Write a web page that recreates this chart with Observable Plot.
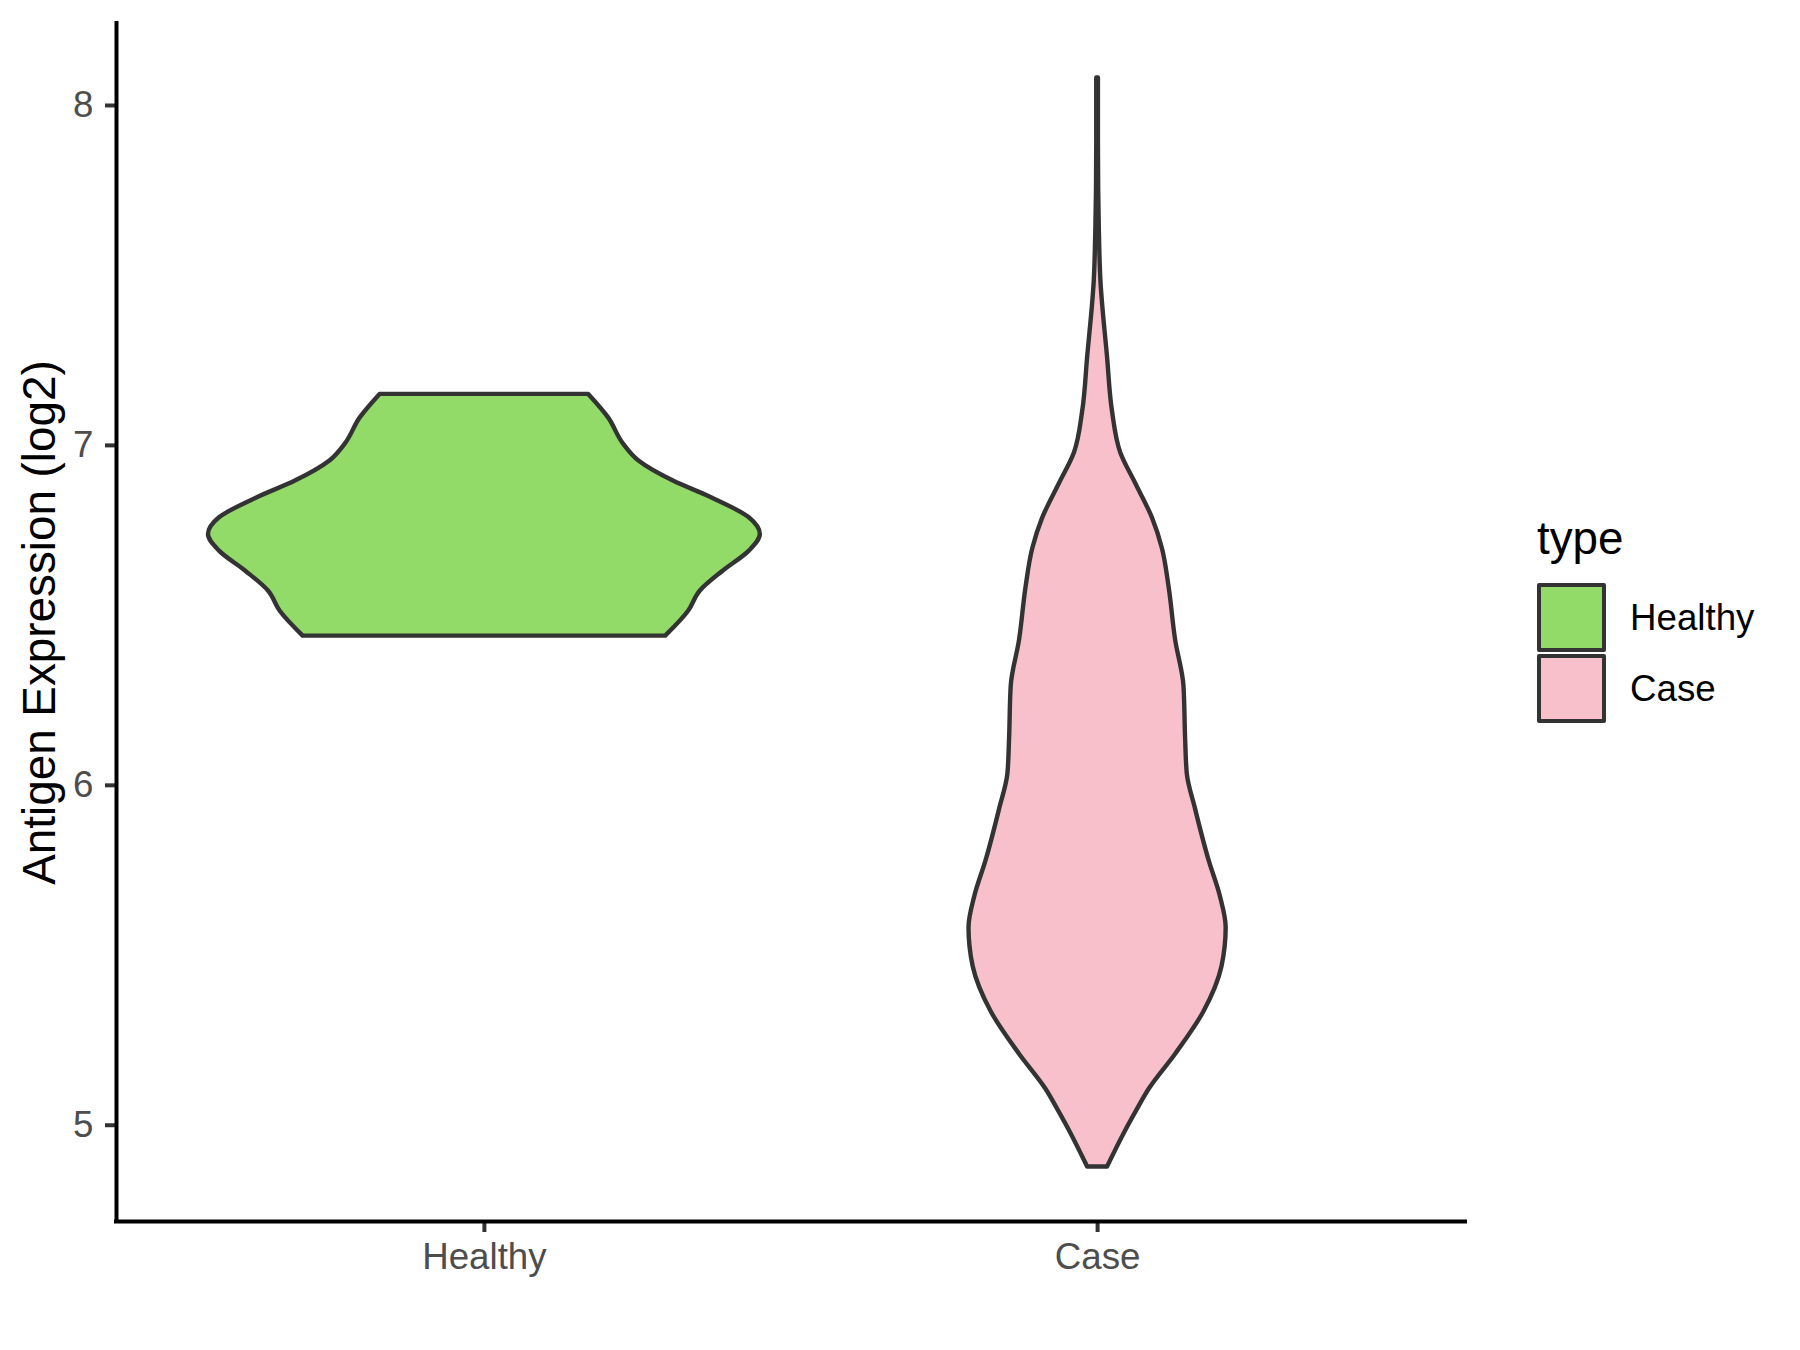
<!DOCTYPE html>
<html>
<head>
<meta charset="utf-8">
<script src="https://cdn.jsdelivr.net/npm/d3@7"></script>
<script src="https://cdn.jsdelivr.net/npm/@observablehq/plot@0.6"></script>
<style>
  html, body { margin: 0; padding: 0; background: #ffffff; }
  #wrap { position: relative; width: 1800px; height: 1350px; font-family: "Liberation Sans", Arial, sans-serif; }
  #wrap svg { position: absolute; left: 0; top: 0; }
  #legend { position: absolute; left: 1537px; top: 516px; }
  #legend .title { font-size: 45.8px; line-height: 46px; color: #000; height: 66px; }
  #legend .row { display: flex; align-items: center; height: 71px; }
  #legend .key { width: 69px; height: 69px; box-sizing: border-box; border: 4px solid #333333; border-radius: 2px; }
  #legend .lab { font-size: 36.7px; margin-left: 24px; color: #000; }
</style>
</head>
<body>
<div id="wrap"></div>
<script>
// ---- data ----
const categories = ["Healthy", "Case"];
const fillColors = ["#93DB69", "#F7C0CB"];
const yTicks = [5, 6, 7, 8];
const yLabel = "Antigen Expression (log2)";
const legendTitle = "type";

// violin profiles: y value and relative half-width (1 = widest violin)
const healthyY = [7.150, 7.081, 7.003, 6.954, 6.895, 6.846, 6.787, 6.738, 6.689, 6.630, 6.571, 6.512, 6.439];
const healthyW = [0.378, 0.450, 0.505, 0.560, 0.685, 0.823, 0.960, 1.000, 0.960, 0.865, 0.782, 0.740, 0.657];

const caseY = [8.081, 7.90, 7.75, 7.65, 7.485, 7.26, 7.10, 6.978, 6.888, 6.786, 6.696, 6.584, 6.426, 6.292, 6.137, 6.034, 5.930, 5.776, 5.673, 5.581, 5.467, 5.333, 5.209, 5.106, 5.04, 4.981, 4.877];
const caseW = [0.003, 0.003, 0.004, 0.006, 0.012, 0.036, 0.054, 0.084, 0.138, 0.199, 0.235, 0.259, 0.283, 0.313, 0.319, 0.325, 0.355, 0.405, 0.445, 0.466, 0.451, 0.385, 0.283, 0.187, 0.140, 0.100, 0.036];

// ---- build table ----
const profiles = [{y: healthyY, w: healthyW}, {y: caseY, w: caseW}];
const rows = [];
profiles.forEach((p, i) => {
  p.y.forEach((y, j) => {
    rows.push({type: categories[i], y, x1: (i + 1) - 0.45 * p.w[j], x2: (i + 1) + 0.45 * p.w[j]});
  });
});
const yMin = d3.min(rows, d => d.y), yMax = d3.max(rows, d => d.y);
const yPad = (yMax - yMin) * 0.05;
const xDomain = [0.4, categories.length + 0.6];
const yDomain = [yMin - yPad, yMax + yPad];

const chart = Plot.plot({
  width: 1800,
  height: 1350,
  marginLeft: 116,
  marginRight: 335,
  marginTop: 23,
  marginBottom: 129,
  style: {fontFamily: "'Liberation Sans', Arial, sans-serif", background: "transparent"},
  x: {domain: xDomain},
  y: {domain: yDomain},
  color: {domain: categories, range: fillColors},
  marks: [
    Plot.areaX(rows, {y: "y", x1: "x1", x2: "x2", z: "type", fill: "type", stroke: "#333333", strokeWidth: 4.4, strokeLinejoin: "round", curve: "monotone-y"}),
    Plot.axisY({ticks: yTicks, tickFormat: d3.format("d"), tickSize: 11, tickPadding: 12, fontSize: 36.7, stroke: "#333333", fill: "#4D4D4D", strokeWidth: 4, label: null}),
    Plot.axisX({ticks: [1, 2], tickFormat: d => categories[d - 1], tickSize: 11, tickPadding: 10, fontSize: 36.7, stroke: "#333333", fill: "#4D4D4D", strokeWidth: 4, label: null}),
    Plot.ruleX([xDomain[0]], {stroke: "#000000", strokeWidth: 4, strokeLinecap: "square"}),
    Plot.ruleY([yDomain[0]], {stroke: "#000000", strokeWidth: 4, strokeLinecap: "square"}),
    Plot.text([yLabel], {frameAnchor: "left", dx: -76, rotate: -90, fontSize: 45.8, fill: "#000000", textAnchor: "middle", lineAnchor: "middle"})
  ]
});

const wrap = document.getElementById("wrap");
wrap.appendChild(chart);

// legend
const legend = document.createElement("div");
legend.id = "legend";
const t = document.createElement("div");
t.className = "title";
t.textContent = legendTitle;
legend.appendChild(t);
categories.forEach((c, i) => {
  const row = document.createElement("div");
  row.className = "row";
  const key = document.createElement("div");
  key.className = "key";
  key.style.background = fillColors[i];
  const lab = document.createElement("div");
  lab.className = "lab";
  lab.textContent = c;
  row.appendChild(key);
  row.appendChild(lab);
  legend.appendChild(row);
});
wrap.appendChild(legend);
</script>
</body>
</html>
